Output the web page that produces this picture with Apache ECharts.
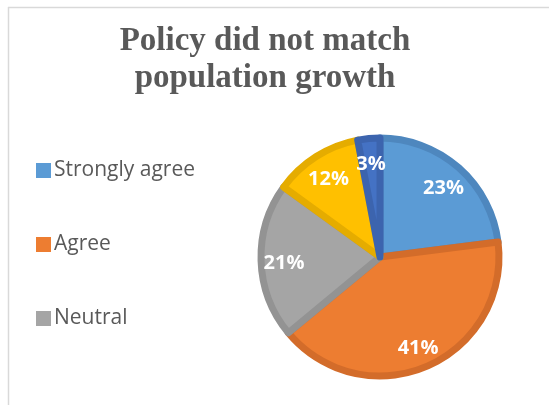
<!DOCTYPE html>
<html><head><meta charset="utf-8">
<script src="https://cdn.jsdelivr.net/npm/echarts@6/dist/echarts.min.js"></script>
<style>html,body{margin:0;padding:0;background:#fff}#c{width:549px;height:405px}</style>
</head><body><div id="c"></div>
<script>
const titleText = "Policy did not match\npopulation growth";
const categories = ["Strongly agree", "Agree", "Neutral", "Disagree", "Strongly disagree"];
const values = [23, 41, 21, 12, 3];
const legendShown = ["Strongly agree", "Agree", "Neutral"];
const fillColors = ["#5B9BD5", "#ED7D31", "#A5A5A5", "#FFC000", "#4472C4"];
const edgeColors = ["#4E87BE", "#D36C2A", "#939393", "#E5AC00", "#3C64AE"];

const chart = echarts.init(document.getElementById('c'), null, {renderer: 'canvas'});
const pieData = categories.map((n, i) => ({
  name: n, value: values[i],
  itemStyle: {color: fillColors[i], borderColor: edgeColors[i]}
}));
const labelData = categories.map((n, i) => ({name: n, value: values[i]}));
chart.setOption({
  animation: false,
  color: fillColors,
  title: {
    text: titleText, left: 265, top: 23, padding: 0, textAlign: 'center',
    textStyle: {fontFamily: 'Liberation Serif', fontWeight: 'bold', fontSize: 33, color: '#595959', lineHeight: 37}
  },
  legend: {
    data: legendShown, orient: 'vertical', left: 36, top: 160, padding: 0,
    itemWidth: 15, itemHeight: 15, itemGap: 53, icon: 'rect',
    itemStyle: {borderWidth: 0},
    textStyle: {fontFamily: 'Open Sans', fontSize: 21, lineHeight: 21, color: '#595959', padding: [0, 0, 0, -2]}
  },
  graphic: [
    {type: 'line', shape: {x1: 8, y1: 7.5, x2: 549, y2: 7.5}, style: {stroke: '#D9D9D9', lineWidth: 1.5}, silent: true},
    {type: 'line', shape: {x1: 8.5, y1: 7, x2: 8.5, y2: 405}, style: {stroke: '#D9D9D9', lineWidth: 1.5}, silent: true}
  ],
  series: [
    {
      type: 'pie', center: [380, 257], radius: [0, 119], startAngle: 90, clockwise: true,
      data: pieData, label: {show: false}, labelLine: {show: false},
      itemStyle: {borderWidth: 7}, emphasis: {disabled: true}
    },
    {
      type: 'pie', center: [380, 260], radius: [62, 124], startAngle: 90, clockwise: true,
      data: labelData, silent: true, legendHoverLink: false,
      itemStyle: {color: 'rgba(0,0,0,0)', borderWidth: 0},
      label: {show: true, position: 'inside', formatter: '{c}%', color: '#fff',
        fontFamily: 'Open Sans', fontWeight: 'bold', fontSize: 20},
      labelLine: {show: false}, emphasis: {disabled: true}
    }
  ]
});
</script></body></html>
